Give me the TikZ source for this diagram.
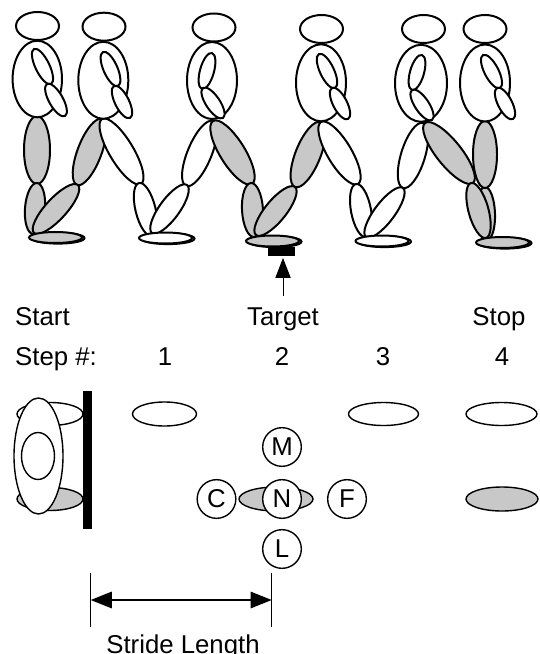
\documentclass[tikz,border=0pt]{standalone}
\usepackage{fontspec}
\setmainfont{Liberation Sans}
\usetikzlibrary{calc, arrows.meta}

\definecolor{limbgray}{RGB}{200,200,200}

\tikzset{
  bodyline/.style={draw=black, line width=1.7pt},
  printline/.style={draw=black, line width=1.2pt},
  spot/.style={circle, draw, line width=1.2pt, fill=white, minimum size=33pt, inner sep=0pt},
  word/.style={anchor=base, inner sep=0pt},
}

% body segment: an ellipse stretched between two joints (x1,y1) -- (x2,y2)
\newcommand\limb[6][white]{%
  \pgfmathsetmacro\limbang{atan2(#3-#5,#4-#2)}%
  \pgfmathsetmacro\limblen{veclen(#4-#2,#5-#3)/2}%
  \draw[bodyline, fill=#1, shift={({(#2+#4)/2},{(#3+#5)/2})}, rotate=\limbang]
    (0,0) ellipse [x radius=\limblen, y radius=#6];
}

% a foot print seen from the side (two feet, one behind the other)
\newcommand\foot[3][white]{%
  \draw[bodyline, fill=#1] (#2+1.5,#3+0.6) ellipse (26.5 and 5.5);
  \draw[bodyline, fill=#1] (#2-1,#3) ellipse (26.5 and 5.5);
}

\begin{document}
\begin{tikzpicture}[x=0.03cm, y=-0.03cm, font=\fontsize{22}{26}\selectfont]
  \useasboundingbox (0,0) rectangle (539,654);

  % --- walker 1 (standing at start) ---
  \limb[limbgray]{37}{116}{37}{184}{13}
  \limb[limbgray]{37}{183}{33}{234}{10}
  \draw[bodyline, fill=white] (37.3,79) ellipse (24.7 and 38.3);
  \draw[bodyline, fill=white] (37.5,26) ellipse (21.5 and 14);
  \limb{34}{49}{51}{84}{7}
  \limb{47}{84}{65}{116}{7}

  % --- walker 2 ---
  \limb[limbgray]{102}{119}{77}{185}{12}
  \limb[limbgray]{78}{185}{34}{233}{10.5}
  \limb{102}{119}{141}{184}{12}
  \limb{139}{183}{152}{236}{10}
  \draw[bodyline, fill=white] (103.3,80.3) ellipse (25 and 38.5);
  \draw[bodyline, fill=white] (104,26.7) ellipse (21.5 and 14);
  \limb{103}{52}{118}{86}{7}
  \limb{114}{86}{130}{118}{7}

  % --- walker 3 ---
  \limb{213}{121}{186}{186}{12}
  \limb{187}{185}{152}{233}{10}
  \limb[limbgray]{213}{121}{252}{184}{12.5}
  \limb[limbgray]{251}{183}{254}{237}{10.5}
  \draw[bodyline, fill=white] (212,80.5) ellipse (25 and 38.5);
  \draw[bodyline, fill=white] (214,27.5) ellipse (21.5 and 14);
  \limb{212}{53}{202}{89}{7}
  \limb{203}{88}{223}{118}{7}

  % --- walker 4 ---
  \limb[limbgray]{321}{122}{295}{187}{12.5}
  \limb[limbgray]{295}{187}{256}{235}{10.5}
  \limb{321}{122}{358}{184}{12}
  \limb{356}{184}{366}{237}{10}
  \draw[bodyline, fill=white] (321,82.8) ellipse (25 and 38.5);
  \draw[bodyline, fill=white] (321.5,29) ellipse (21.5 and 14);
  \limb{319}{54}{335}{88}{7}
  \limb{332}{88}{348}{119}{7}

  % --- walker 6 (stopped), behind walker 5 ---
  \limb[limbgray]{485}{187}{487}{240}{9}
  \limb[limbgray]{485}{121}{485}{188}{12}
  \draw[bodyline, fill=white] (485,83) ellipse (25 and 38.5);
  \draw[bodyline, fill=white] (485,29) ellipse (21.5 and 14);
  \limb{483}{55}{500}{88}{7}
  \limb{497}{88}{513}{119}{7}

  % --- walker 5 ---
  \limb{423}{123}{403}{188}{12}
  \limb{403}{188}{366}{237}{10}
  \limb[limbgray]{425}{123}{473}{183}{12.5}
  \limb[limbgray]{471}{183}{486}{238}{10}
  \draw[bodyline, fill=white] (421,83.3) ellipse (26 and 38.5);
  \draw[bodyline, fill=white] (423.5,29) ellipse (21.5 and 14);
  \limb{422}{55}{412}{90}{7}
  \limb{412}{90}{432}{120}{7}

  % --- feet on the floor ---
  \foot[limbgray]{56.5}{237.5}
  \foot{166.5}{238}
  \foot[limbgray]{273.5}{241}
  \foot{383}{241}
  \foot[limbgray]{503.5}{242.5}

  % target plate and pointer
  \node[fill=black, inner sep=0pt, minimum width=23pt, minimum height=7.6pt] (plate) at (281.5,251.5) {};

  % --- labels ---
  \node[word, anchor=base west] (start) at (15,325) {Start};
  \node[word] (target) at (283,325) {Target};
  \node[word] (stop) at (499,325) {Stop};
  \node[word, anchor=base west] (stephead) at (15,365) {Step \#:};
  \node[word] (n1) at (165,365) {1};
  \node[word] (n2) at (282,365) {2};
  \node[word] (n3) at (383,365) {3};
  \node[word] (n4) at (502,365) {4};

  \draw[line width=0.8pt, -{Triangle[length=17pt, width=13pt]}, shorten >=1.5pt]
    ([yshift=9pt]target.north) -- (target.north |- plate.south);

  % --- footprints seen from above ---
  \draw[printline, fill=white] (50,414) ellipse (33 and 11.5);
  \draw[printline, fill=limbgray] (50,499) ellipse (33 and 11.5);
  \draw[printline, fill=white] (38.5,456) ellipse (24.5 and 58);
  \draw[printline] (38,456) ellipse (16.5 and 23.5);
  \fill (82.5,391) rectangle (92,529);

  \draw[printline] (164.5,414) ellipse (32 and 12);
  \draw[printline] (383.5,414) ellipse (35 and 11.5);
  \draw[printline] (501.5,414) ellipse (35.5 and 11.5);
  \draw[printline, fill=limbgray] (276,499) ellipse (37 and 12);
  \draw[printline, fill=limbgray] (502,499) ellipse (36 and 12);

  \node[spot] (M) at (282,447) {M};
  \node[spot] (N) at (282,499) {N};
  \node[spot] (C) at (216.5,499) {C};
  \node[spot] (F) at (347,499) {F};
  \node[spot] (L) at (282,549) {L};

  % --- stride length ---
  \coordinate (strideL) at (90.7,600);
  \coordinate (strideR) at (271.7,600);
  \draw[line width=0.8pt] (90.7,573) -- (90.7,627);
  \draw[line width=0.8pt] (271.7,573) -- (271.7,627);
  \draw[line width=1.6pt, {Triangle[length=18pt, width=14pt]}-{Triangle[length=18pt, width=14pt]}]
    (strideL) -- (strideR);
  \node[word] (stride) at (183,653) {Stride Length};
\end{tikzpicture}
\end{document}
